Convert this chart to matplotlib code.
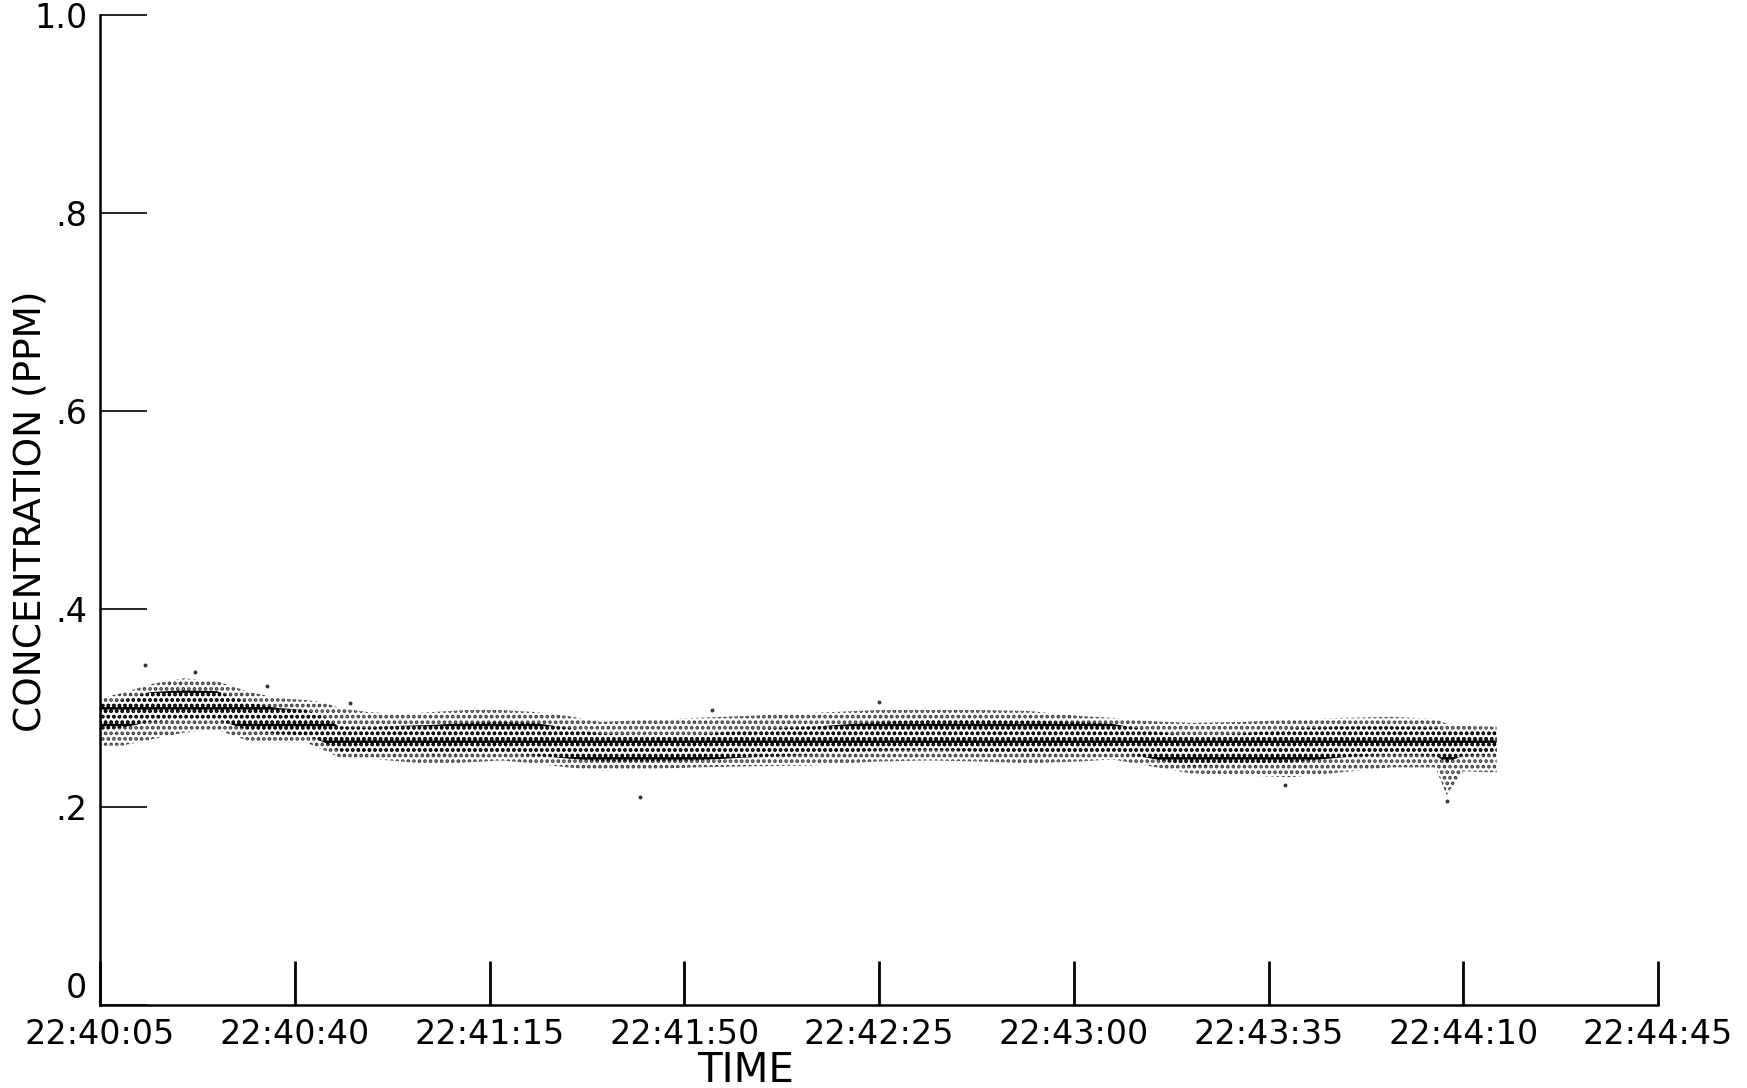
import matplotlib
matplotlib.use("Agg")
import matplotlib.pyplot as plt

# ---- data (seconds after 22:40:05, concentration in ppm) ----
t_sec = [0, 4, 9, 15, 21, 27, 32, 37, 40, 43, 48, 54, 60, 66, 72, 78, 84, 90,
         98, 107, 116, 128, 140, 149, 158, 167, 176, 182, 188, 196, 205, 214,
         223, 232, 240, 242, 245, 251]
outer_lo = [0.262, 0.262, 0.268, 0.275, 0.278, 0.266, 0.265, 0.265, 0.258, 0.250,
            0.249, 0.246, 0.243, 0.245, 0.247, 0.244, 0.240, 0.237, 0.238, 0.240,
            0.241, 0.242, 0.246, 0.247, 0.246, 0.244, 0.246, 0.248, 0.242, 0.234,
            0.232, 0.230, 0.235, 0.240, 0.240, 0.212, 0.236, 0.235]
outer_hi = [0.310, 0.315, 0.324, 0.330, 0.327, 0.316, 0.310, 0.308, 0.306, 0.300,
            0.296, 0.294, 0.296, 0.298, 0.298, 0.296, 0.292, 0.286, 0.288, 0.290,
            0.292, 0.295, 0.298, 0.298, 0.298, 0.297, 0.292, 0.290, 0.287, 0.285,
            0.286, 0.288, 0.290, 0.291, 0.289, 0.284, 0.282, 0.281]
core_lo = [0.278, 0.280, 0.286, 0.288, 0.288, 0.277, 0.274, 0.272, 0.266, 0.256,
           0.255, 0.254, 0.253, 0.254, 0.255, 0.252, 0.249, 0.246, 0.246, 0.247,
           0.250, 0.253, 0.257, 0.258, 0.256, 0.253, 0.255, 0.256, 0.250, 0.241,
           0.243, 0.245, 0.250, 0.253, 0.252, 0.245, 0.252, 0.253]
core_hi = [0.304, 0.308, 0.316, 0.318, 0.317, 0.305, 0.300, 0.298, 0.292, 0.281,
           0.280, 0.282, 0.283, 0.285, 0.286, 0.285, 0.280, 0.274, 0.272, 0.272,
           0.278, 0.281, 0.286, 0.288, 0.288, 0.287, 0.286, 0.284, 0.278, 0.271,
           0.274, 0.279, 0.281, 0.281, 0.280, 0.278, 0.278, 0.278]
outlier_t = [8, 17, 30, 45, 97, 110, 140, 242, 213]
outlier_v = [0.343, 0.336, 0.322, 0.305, 0.210, 0.298, 0.306, 0.206, 0.222]

x_tick_sec = [0, 35, 70, 105, 140, 175, 210, 245, 280]
x_tick_labels = ["22:40:05", "22:40:40", "22:41:15", "22:41:50", "22:42:25",
                 "22:43:00", "22:43:35", "22:44:10", "22:44:45"]
y_ticks = [0, 0.2, 0.4, 0.6, 0.8, 1.0]
y_tick_labels = ["0", ".2", ".4", ".6", ".8", "1.0"]

# ---- figure ----
W, H = 1747, 1088
plt.rcParams['font.family'] = ['DejaVu Sans']
plt.rcParams['hatch.linewidth'] = 1.8
fig = plt.figure(figsize=(W / 100, H / 100), dpi=100)
fig.patch.set_facecolor('white')
ax = fig.add_axes([100 / W, (H - 1005) / H, 1558 / W, 990 / H])

ax.fill_between(t_sec, outer_lo, outer_hi, facecolor='none', edgecolor='#3a3a3a',
                hatch='...', linewidth=0)
ax.fill_between(t_sec, core_lo, core_hi, facecolor='none', edgecolor='#000000',
                hatch='-...', linewidth=0)
ax.scatter(outlier_t, outlier_v, s=8, color='#333333', linewidths=0)

ax.set_xlim(0, 280)
ax.set_ylim(0, 1.0)
for s in ['top', 'right']:
    ax.spines[s].set_visible(False)
for s in ['left', 'bottom']:
    ax.spines[s].set_linewidth(1.8)
    ax.spines[s].set_color('black')

ax.set_xticks(x_tick_sec)
ax.set_xticklabels(x_tick_labels)
ax.set_yticks(y_ticks)
ax.set_yticklabels(y_tick_labels)
ax.tick_params(axis='x', direction='in', length=32, width=2.0, pad=9,
               labelsize=24, colors='black')
ax.tick_params(axis='y', direction='in', length=34, width=1.2, pad=9,
               labelsize=24, colors='black')
ax.get_yticklabels()[0].set_va('bottom')

fig.text(31 / W, 1 - 511 / H, 'CONCENTRATION (PPM)', rotation=90,
         ha='center', va='center', fontsize=27)
fig.text(746 / W, 1 - 1071 / H, 'TIME', ha='center', va='center', fontsize=29)

fig.savefig('out.png', dpi=100, facecolor='white')
